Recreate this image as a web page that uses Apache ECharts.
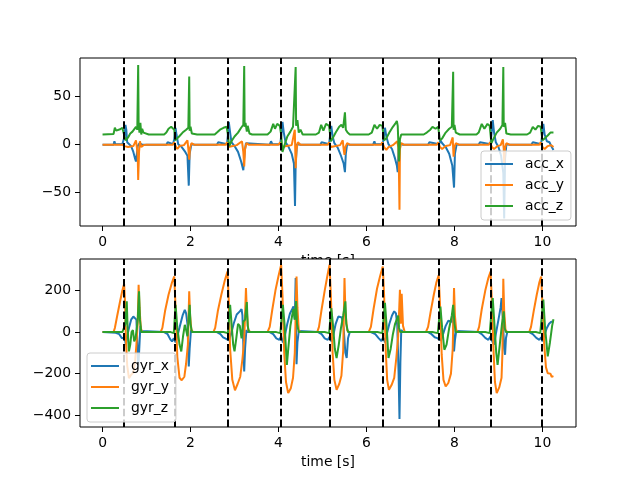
<!DOCTYPE html>
<html>
<head>
<meta charset="utf-8">
<script src="https://cdn.jsdelivr.net/npm/echarts@6/dist/echarts.min.js"></script>
<style>html,body{margin:0;padding:0;background:#fff}#c{width:640px;height:480px}</style>
</head>
<body>
<div id="c"></div>
<script>
// ---- data: [time s, value] ----
const events = [0.49, 1.64, 2.85, 4.06, 5.17, 6.38, 7.65, 8.83, 9.98];
const xTicks = [0, 2, 4, 6, 8, 10];
const accTicks = [-50, 0, 50];
const gyrTicks = [-400, -200, 0, 200];

const accX = [[0,-0.5],[0.25,-0.5],[0.27,3],[0.29,0],[0.45,0],[0.48,2],[0.5,8],[0.52,20],[0.54,15],[0.56,2],[0.6,0],[0.65,-2],[0.7,-8],[0.74,-15],[0.76,-18],[0.78,-10],[0.8,-2],[0.84,1],[0.9,-0.5],
[1.45,-0.5],[1.48,2],[1.5,0],[1.6,0],[1.63,5],[1.66,17],[1.68,10],[1.72,0],[1.8,-3],[1.88,-8],[1.93,-12],[1.96,-43],[1.98,-10],[2.02,0],[2.1,-0.5],
[2.6,-0.5],[2.63,2],[2.66,0],[2.83,0],[2.85,10],[2.87,23],[2.9,12],[2.93,2],[3.0,-2],[3.08,-8],[3.15,-18],[3.2,-27],[3.23,-8],[3.26,1],[3.3,-0.5],
[3.8,-0.5],[3.83,3],[3.86,0],[4.04,0],[4.07,12],[4.09,23],[4.12,12],[4.16,2],[4.22,-2],[4.3,-10],[4.35,-20],[4.375,-64],[4.39,-20],[4.42,0],[4.5,-0.5],
[4.95,-0.5],[4.98,2],[5.0,0],[5.15,0],[5.18,12],[5.2,19],[5.23,8],[5.27,1],[5.35,-4],[5.42,-12],[5.48,-20],[5.51,-29],[5.53,-10],[5.56,0],[5.62,-0.5],
[6.15,-0.5],[6.18,3],[6.2,0],[6.37,0],[6.4,10],[6.42,17],[6.45,8],[6.5,0],[6.58,-5],[6.65,-15],[6.69,-22],[6.71,-29],[6.73,-5],[6.76,1],[6.82,-0.5],
[7.4,-0.5],[7.43,2],[7.46,0],[7.65,0],[7.68,4],[7.72,1],[7.8,-3],[7.88,-10],[7.95,-22],[7.99,-45],[8.01,-10],[8.05,0],[8.1,-0.5],
[8.55,-0.5],[8.58,2],[8.6,0],[8.82,0],[8.85,15],[8.87,25],[8.9,12],[8.94,2],[9.0,-3],[9.06,-12],[9.11,-30],[9.13,-77],[9.15,-15],[9.18,0],[9.25,-0.5],
[9.75,-0.5],[9.78,2],[9.8,0],[9.97,0],[10.0,12],[10.02,21],[10.05,10],[10.1,3],[10.16,2],[10.2,-2],[10.25,-6]];

const accY = [[0,-0.5],[0.45,-0.5],[0.5,-2],[0.53,-4],[0.58,-3],[0.62,-1],[0.7,-2],[0.76,4],[0.78,-3],[0.8,-12],[0.81,-37],[0.83,-8],[0.85,3],[0.88,-3],[0.93,-1],[1.0,-0.5],
[1.6,-0.5],[1.63,2],[1.66,-2],[1.7,-5],[1.75,-2],[1.85,-1],[1.93,4],[1.95,-5],[1.97,-16],[1.99,-4],[2.02,1],[2.08,-0.5],
[2.8,-0.5],[2.83,2],[2.86,-3],[2.9,-5],[2.96,-2],[3.05,-1],[3.17,3],[3.2,-8],[3.22,-23],[3.24,-5],[3.27,1],[3.32,-0.5],
[4.0,-0.5],[4.04,2],[4.08,-3],[4.12,-5],[4.18,-2],[4.3,-1],[4.37,15],[4.38,-5],[4.39,-25],[4.41,-5],[4.44,2],[4.5,-0.5],
[5.12,-0.5],[5.15,2],[5.19,-3],[5.23,-5],[5.3,-2],[5.4,-1],[5.46,4],[5.48,-5],[5.5,-11],[5.52,-3],[5.56,1],[5.62,-0.5],
[6.33,-0.5],[6.36,2],[6.4,-3],[6.45,-6],[6.5,-3],[6.6,-1],[6.7,3],[6.73,-5],[6.75,-68],[6.76,-5],[6.79,1],[6.85,-0.5],
[7.6,-0.5],[7.63,2],[7.67,-3],[7.72,-5],[7.8,-2],[7.9,-1],[7.96,7],[7.97,-4],[7.98,-13],[8.0,-3],[8.03,1],[8.1,-0.5],
[8.78,-0.5],[8.81,2],[8.85,-3],[8.9,-5],[8.98,-2],[9.05,-1],[9.1,5],[9.12,-5],[9.13,-20],[9.15,-4],[9.18,1],[9.25,-0.5],
[9.93,-0.5],[9.96,2],[10.0,-3],[10.05,-5],[10.12,-2],[10.2,-1],[10.25,-3]];

const accZ = [[0,10],[0.25,10.5],[0.28,17],[0.31,14],[0.34,16],[0.4,15.5],[0.45,17],[0.48,18],[0.5,8],[0.53,4],[0.58,7],[0.63,11],[0.68,13],[0.72,14],[0.76,18],[0.79,15],[0.81,82],[0.82,20],[0.84,12],[0.86,22],[0.88,10],[0.9,16],[0.93,12],[0.97,11],[1.05,10],
[1.4,10],[1.45,12],[1.5,16],[1.56,18],[1.6,17],[1.63,15],[1.65,4],[1.68,3],[1.74,8],[1.82,12],[1.9,15],[1.95,17],[1.97,70],[1.98,14],[2.0,18],[2.03,11],[2.07,13],[2.15,10],
[2.55,10],[2.6,12],[2.67,15],[2.75,17],[2.82,18],[2.85,10],[2.88,-2],[2.93,3],[3.0,8],[3.08,12],[3.15,17],[3.2,20],[3.22,81],[3.23,18],[3.25,22],[3.28,13],[3.3,19],[3.34,11],[3.4,10],
[3.75,10],[3.82,13],[3.88,21],[3.92,16],[3.97,21],[4.03,19],[4.06,10],[4.09,-8],[4.13,-2],[4.2,8],[4.27,13],[4.33,18],[4.37,20],[4.39,80],[4.4,19],[4.43,25],[4.46,12],[4.5,15],[4.55,10],
[4.85,10],[4.92,12],[4.97,20],[5.02,14],[5.08,21],[5.15,19],[5.19,3],[5.23,6],[5.3,12],[5.38,18],[5.43,20],[5.47,17],[5.51,33],[5.53,15],[5.57,12],[5.62,10],
[6.05,10],[6.12,12],[6.18,20],[6.24,16],[6.3,20],[6.36,19],[6.4,4],[6.45,6],[6.52,12],[6.6,18],[6.65,21],[6.69,24],[6.71,19],[6.74,-18],[6.76,5],[6.79,10],
[7.3,10],[7.37,12],[7.45,15],[7.5,18],[7.57,16],[7.63,18],[7.67,4],[7.72,6],[7.8,12],[7.88,16],[7.94,18],[7.97,75],[7.98,15],[8.0,20],[8.03,12],[8.07,13],[8.12,10],
[8.5,10],[8.55,12],[8.62,21],[8.68,16],[8.75,21],[8.8,19],[8.84,1],[8.88,5],[8.96,12],[9.04,16],[9.09,20],[9.11,80],[9.12,18],[9.15,22],[9.18,11],[9.22,13],[9.28,10],
[9.65,10],[9.72,12],[9.78,18],[9.84,15],[9.9,19],[9.96,18],[10.0,4],[10.05,6],[10.12,9],[10.18,12],[10.25,12]];

const gyrX = [[0,0],[0.3,-3],[0.38,-10],[0.44,-30],[0.47,-38],[0.5,-25],[0.53,-60],[0.56,-20],[0.6,20],[0.65,60],[0.7,75],[0.74,82],[0.77,60],[0.79,-50],[0.81,-170],[0.83,-100],[0.86,30],[0.88,5],[0.92,0],
[1.4,0],[1.48,-10],[1.54,-35],[1.58,-45],[1.62,-30],[1.66,-50],[1.7,-20],[1.76,30],[1.82,80],[1.87,107],[1.9,90],[1.93,40],[1.96,-165],[1.98,-80],[2.01,10],[2.05,0],
[2.6,0],[2.68,-10],[2.74,-25],[2.8,-32],[2.84,-25],[2.87,-40],[2.92,-10],[2.98,40],[3.05,85],[3.12,100],[3.16,111],[3.18,80],[3.2,-60],[3.22,-190],[3.24,-80],[3.27,10],[3.3,0],
[3.8,0],[3.88,-10],[3.95,-30],[4.02,-37],[4.06,-20],[4.1,-50],[4.15,-10],[4.2,40],[4.26,90],[4.31,110],[4.34,124],[4.37,60],[4.39,260],[4.4,-60],[4.41,-155],[4.43,-50],[4.46,5],[4.5,0],
[4.9,0],[4.98,-10],[5.05,-30],[5.12,-37],[5.17,-20],[5.2,-45],[5.25,-10],[5.3,40],[5.36,75],[5.4,83],[5.44,70],[5.48,20],[5.52,-100],[5.55,-125],[5.58,-30],[5.62,0],
[6.1,0],[6.2,-10],[6.28,-30],[6.34,-43],[6.38,-25],[6.42,-50],[6.46,-10],[6.52,40],[6.58,80],[6.63,100],[6.67,90],[6.7,30],[6.73,-200],[6.75,-418],[6.77,-150],[6.79,10],[6.83,0],
[7.4,0],[7.48,-10],[7.55,-25],[7.61,-29],[7.65,-20],[7.69,-40],[7.74,-10],[7.8,30],[7.86,55],[7.9,59],[7.94,50],[7.97,83],[7.99,-93],[8.01,-40],[8.04,5],[8.08,0],
[8.55,0],[8.62,-10],[8.7,-28],[8.77,-37],[8.82,-20],[8.86,-45],[8.9,-60],[8.94,-10],[9.0,60],[9.05,120],[9.07,164],[9.1,60],[9.13,-80],[9.15,-109],[9.17,-30],[9.2,0],
[9.7,0],[9.78,-10],[9.86,-28],[9.93,-37],[9.97,-25],[10.0,-45],[10.05,-10],[10.1,20],[10.15,40],[10.2,50],[10.23,59],[10.25,50]];

const gyrY = [[0,0],[0.25,0],[0.28,20],[0.33,75],[0.4,150],[0.45,200],[0.49,232],[0.51,150],[0.53,-30],[0.56,-160],[0.6,-222],[0.65,-205],[0.7,-195],[0.74,-140],[0.77,-60],[0.8,50],[0.82,228],[0.84,120],[0.87,20],[0.9,0],
[1.32,0],[1.36,20],[1.42,100],[1.5,180],[1.58,240],[1.63,268],[1.66,120],[1.7,-120],[1.75,-220],[1.8,-232],[1.86,-215],[1.9,-150],[1.94,-60],[1.97,196],[1.99,80],[2.02,10],[2.06,0],
[2.52,0],[2.56,20],[2.62,100],[2.7,180],[2.78,250],[2.84,292],[2.87,150],[2.9,-80],[2.95,-230],[3.01,-280],[3.07,-250],[3.13,-215],[3.18,-130],[3.22,-40],[3.26,212],[3.28,100],[3.31,10],[3.36,0],
[3.75,0],[3.8,25],[3.86,110],[3.93,200],[4.0,270],[4.06,324],[4.09,180],[4.13,-100],[4.17,-240],[4.22,-294],[4.28,-270],[4.33,-220],[4.37,-100],[4.41,268],[4.43,120],[4.46,10],[4.5,0],
[4.88,0],[4.92,25],[4.98,110],[5.05,200],[5.11,270],[5.16,324],[5.19,180],[5.23,-100],[5.27,-230],[5.32,-278],[5.38,-250],[5.43,-210],[5.47,-90],[5.5,260],[5.52,100],[5.56,10],[5.6,0],
[6.05,0],[6.1,25],[6.16,110],[6.24,210],[6.31,270],[6.37,316],[6.4,180],[6.44,-100],[6.47,-230],[6.51,-278],[6.57,-255],[6.63,-220],[6.68,-120],[6.72,-20],[6.76,204],[6.78,40],[6.8,185],[6.83,30],[6.87,0],
[7.35,0],[7.4,25],[7.46,100],[7.53,180],[7.59,240],[7.64,273],[7.67,140],[7.71,-110],[7.75,-230],[7.8,-262],[7.86,-245],[7.92,-200],[7.96,-80],[7.99,212],[8.01,80],[8.04,10],[8.08,0],
[8.52,0],[8.56,25],[8.62,110],[8.7,200],[8.77,260],[8.82,292],[8.85,150],[8.89,-100],[8.92,-240],[8.96,-294],[9.02,-265],[9.07,-220],[9.09,-100],[9.11,257],[9.13,100],[9.16,10],[9.2,0],
[9.7,0],[9.74,25],[9.8,100],[9.87,180],[9.93,240],[9.97,268],[10.0,130],[10.04,-60],[10.08,-170],[10.12,-198],[10.15,-205],[10.18,-200],[10.21,-215],[10.25,-212]];

const gyrZ = [[0,0],[0.45,0],[0.49,-5],[0.52,40],[0.55,148],[0.57,20],[0.6,-93],[0.63,-60],[0.66,0],[0.69,10],[0.72,-45],[0.75,-30],[0.78,20],[0.8,60],[0.83,196],[0.85,60],[0.88,0],[0.95,0],
[1.55,0],[1.62,-5],[1.66,131],[1.7,20],[1.75,-60],[1.79,-93],[1.83,-20],[1.87,35],[1.9,10],[1.93,-20],[1.95,40],[1.98,131],[2.0,40],[2.03,0],[2.1,0],
[2.75,0],[2.85,-5],[2.9,131],[2.94,20],[2.97,-60],[3.0,-93],[3.04,-30],[3.08,40],[3.12,30],[3.16,-30],[3.2,50],[3.24,60],[3.28,145],[3.3,30],[3.33,0],[3.4,0],
[3.95,0],[4.04,-5],[4.1,131],[4.14,30],[4.19,-158],[4.23,-60],[4.27,30],[4.31,80],[4.34,111],[4.37,60],[4.4,150],[4.42,40],[4.46,0],
[5.05,0],[5.15,-5],[5.2,115],[5.24,30],[5.28,-80],[5.32,-125],[5.37,-60],[5.42,20],[5.47,80],[5.52,148],[5.54,40],[5.58,0],
[6.25,0],[6.36,-5],[6.42,141],[6.46,20],[6.5,-125],[6.55,-80],[6.6,-10],[6.65,40],[6.7,67],[6.72,80],[6.74,20],[6.77,0],
[7.5,0],[7.62,-5],[7.68,123],[7.72,20],[7.77,-85],[7.82,-60],[7.88,20],[7.94,80],[7.97,131],[8.0,40],[8.03,0],
[8.7,0],[8.8,-5],[8.87,164],[8.91,30],[8.95,-100],[8.98,-158],[9.03,-60],[9.08,40],[9.1,67],[9.12,100],[9.14,20],[9.17,0],
[9.85,0],[9.95,-5],[10.02,157],[10.06,20],[10.12,-117],[10.17,-50],[10.22,30],[10.25,62]];

// ---- rendering ----
const FONT = 'DejaVu Sans';
const FS = 13.9;
const C = ['#1f77b4', '#ff7f0e', '#2ca02c'];
const minus = v => String(v).replace('-', '\u2212');

function xAxisCfg(gi, z) {
  return {
    type: 'value', gridIndex: gi, min: -0.5125, max: 10.7625, z: z, position: 'bottom',
    splitLine: {show: false},
    axisLine: {show: false, onZero: false},
    axisTick: {customValues: xTicks, length: 5, lineStyle: {color: '#000', width: 1}},
    axisLabel: {customValues: xTicks, margin: 9, color: '#000', fontSize: FS, fontFamily: FONT},
    name: 'time [s]', nameLocation: 'middle', nameGap: 28,
    nameTextStyle: {color: '#000', fontSize: FS, fontFamily: FONT}
  };
}
function yAxisCfg(gi, min, max, ticks, z) {
  return {
    type: 'value', gridIndex: gi, min: min, max: max, z: z, position: 'left',
    splitLine: {show: false},
    axisLine: {show: false, onZero: false},
    axisTick: {customValues: ticks, length: 5, lineStyle: {color: '#000', width: 1}},
    axisLabel: {customValues: ticks, margin: 9, color: '#000', fontSize: FS, fontFamily: FONT, formatter: minus}
  };
}
function lineSeries(name, data, gi, color) {
  return {
    type: 'line', name: name, data: data, xAxisIndex: gi, yAxisIndex: gi,
    showSymbol: false, symbol: 'none', animation: false, z: 2,
    lineStyle: {color: color, width: 2}, itemStyle: {color: color}
  };
}
function eventSeries(gi) {
  return {
    type: 'line', data: [], xAxisIndex: gi, yAxisIndex: gi, z: 4, animation: false,
    markLine: {
      silent: true, symbol: ['none', 'none'], animation: false,
      label: {show: false},
      lineStyle: {color: '#000', type: [7.5, 3.3], width: 2},
      data: events.map(t => ({xAxis: t}))
    }
  };
}
function legendCfg(names, left, top) {
  return {
    orient: 'vertical', left: left, top: top,
    data: names.map(n => ({name: n, icon: 'rect'})),
    itemWidth: 28, itemHeight: 2, itemGap: 7,
    padding: [6, 7, 7, 4],
    backgroundColor: 'rgba(255,255,255,0.8)',
    borderColor: '#cccccc', borderWidth: 1, borderRadius: 3,
    textStyle: {color: '#000', fontSize: FS, fontFamily: FONT, padding: [0, 0, 0, 7]},
    selectedMode: false, z: 10
  };
}

const chart = echarts.init(document.getElementById('c'), null, {renderer: 'canvas'});
chart.setOption({
  animation: false,
  backgroundColor: '#fff',
  grid: [
    {left: 80, top: 58, width: 496, height: 168, show: true, borderColor: '#000', borderWidth: 1, backgroundColor: '#fff', z: 1},
    {left: 80, top: 259, width: 496, height: 168, show: true, borderColor: '#000', borderWidth: 1, backgroundColor: '#fff', z: 1}
  ],
  xAxis: [xAxisCfg(0, 0), xAxisCfg(1, 3)],
  yAxis: [yAxisCfg(0, -84.8, 89.3, accTicks, 3), yAxisCfg(1, -457, 352, gyrTicks, 3)],
  legend: [legendCfg(['acc_x', 'acc_y', 'acc_z'], 481, 151), legendCfg(['gyr_x', 'gyr_y', 'gyr_z'], 87, 353)],
  series: [
    lineSeries('acc_x', accX, 0, C[0]),
    lineSeries('acc_y', accY, 0, C[1]),
    lineSeries('acc_z', accZ, 0, C[2]),
    lineSeries('gyr_x', gyrX, 1, C[0]),
    lineSeries('gyr_y', gyrY, 1, C[1]),
    lineSeries('gyr_z', gyrZ, 1, C[2]),
    eventSeries(0),
    eventSeries(1)
  ]
});
</script>
</body>
</html>
